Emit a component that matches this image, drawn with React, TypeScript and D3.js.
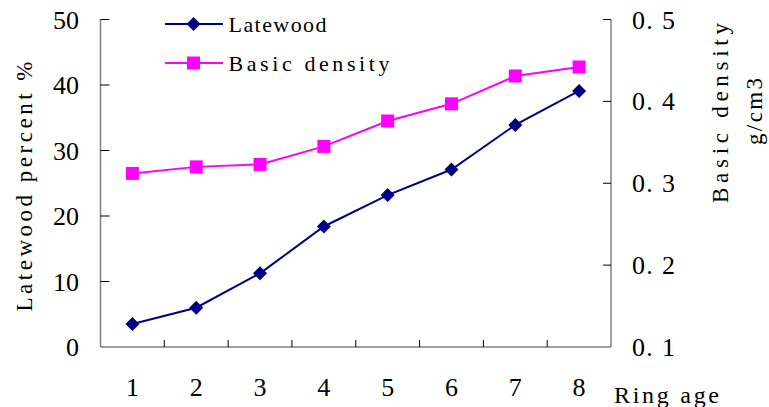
import * as React from "react"
import * as d3 from "d3"

const ringAges = ["1", "2", "3", "4", "5", "6", "7", "8"]
const latewood = [3.5, 6.0, 11.25, 18.4, 23.2, 27.1, 33.9, 39.1]
const basicDensity = [0.312, 0.320, 0.323, 0.345, 0.376, 0.397, 0.431, 0.442]
const leftTicks = [0, 10, 20, 30, 40, 50]
const rightTicks = [0.1, 0.2, 0.3, 0.4, 0.5]

const W = 769
const H = 407
const left = 100.5
const right = 611
const top = 19.5
const bottom = 347

const navy = "#000080"
const magenta = "#ff00ff"
const serif = "'Liberation Serif', 'Times New Roman', serif"

export default function App() {
    const x = d3.scaleBand<string>().domain(ringAges).range([left, right])
    const yL = d3.scaleLinear().domain([0, 50]).range([bottom, top])
    const yR = d3.scaleLinear().domain([0.1, 0.5]).range([bottom, top])
    const cx = (d: string) => (x(d) ?? 0) + x.bandwidth() / 2

    const lateLine = d3.line<number>().x((_, i) => cx(ringAges[i])).y(d => yL(d))(latewood) ?? ""
    const densLine = d3.line<number>().x((_, i) => cx(ringAges[i])).y(d => yR(d))(basicDensity) ?? ""

    // diamond marker path
    const diamond = (px: number, py: number, r = 7) =>
        `M${px},${py - r}L${px + r},${py}L${px},${py + r}L${px - r},${py}Z`
    const sq = 13

    return (
        <svg width={W} height={H} style={{ position: "absolute", left: 0, top: 0, background: "#fff" }}>
            {/* axes */}
            <g stroke="#808080" strokeWidth={1.5} fill="none">
                <line x1={left} x2={left} y1={top} y2={bottom} />
                <line x1={right} x2={right} y1={top} y2={bottom} />
                <line x1={left} x2={right} y1={bottom} y2={bottom} />
            </g>
            <g stroke="#000" strokeWidth={1}>
                {leftTicks.slice(1).map(t => (
                    <line key={t} x1={left} x2={left + 9} y1={yL(t)} y2={yL(t)} />
                ))}
                {rightTicks.slice(1).map(t => (
                    <line key={t} x1={right - 8} x2={right} y1={yR(t)} y2={yR(t)} />
                ))}
                {ringAges.slice(1).map(d => (
                    <line key={d} x1={x(d)} x2={x(d)} y1={bottom - 7} y2={bottom} />
                ))}
            </g>
            {/* tick labels */}
            <g fontFamily={serif} fontSize={26} fill="#000">
                {leftTicks.map(t => (
                    <text key={t} x={79} y={yL(t)} dy="0.35em" textAnchor="end">{t}</text>
                ))}
                {rightTicks.map(t => (
                    <text key={t} x={632} y={yR(t)} dy="0.35em" textLength={43} lengthAdjust="spacing">
                        {d3.format(".1f")(t).replace(".", ". ")}
                    </text>
                ))}
                {ringAges.map(d => (
                    <text key={d} x={cx(d)} y={387} dy="0.35em" textAnchor="middle">{d}</text>
                ))}
            </g>
            {/* axis titles */}
            <g fontFamily={serif} fontSize={23} fill="#000">
                <text transform="translate(32,311.5) rotate(-90)" textLength={250} lengthAdjust="spacing">Latewood percent %</text>
                <text transform="translate(728,203) rotate(-90)" textLength={180} lengthAdjust="spacing">Basic density</text>
                <text transform="translate(762,145) rotate(-90)" textLength={67} lengthAdjust="spacing">g/cm3</text>
                <text x={614} y={403} fontSize={24} textLength={105} lengthAdjust="spacing">Ring age</text>
            </g>
            {/* series */}
            <path d={densLine} fill="none" stroke={magenta} strokeWidth={2} />
            {basicDensity.map((v, i) => (
                <rect key={i} x={cx(ringAges[i]) - sq / 2} y={yR(v) - sq / 2} width={sq} height={sq} fill={magenta} />
            ))}
            <path d={lateLine} fill="none" stroke={navy} strokeWidth={2} />
            {latewood.map((v, i) => (
                <path key={i} d={diamond(cx(ringAges[i]), yL(v))} fill={navy} />
            ))}
            {/* legend */}
            <g>
                <line x1={165} x2={223} y1={24} y2={24} stroke={navy} strokeWidth={2} />
                <path d={diamond(193.5, 24)} fill={navy} />
                <line x1={165} x2={223} y1={63} y2={63} stroke={magenta} strokeWidth={2} />
                <rect x={193.5 - sq / 2} y={63 - sq / 2} width={sq} height={sq} fill={magenta} />
                <g fontFamily={serif} fontSize={22} fill="#000">
                    <text x={228.5} y={24} dy="0.35em" textLength={98} lengthAdjust="spacing">Latewood</text>
                    <text x={228.5} y={63} dy="0.35em" textLength={161} lengthAdjust="spacing">Basic density</text>
                </g>
            </g>
        </svg>
    )
}
